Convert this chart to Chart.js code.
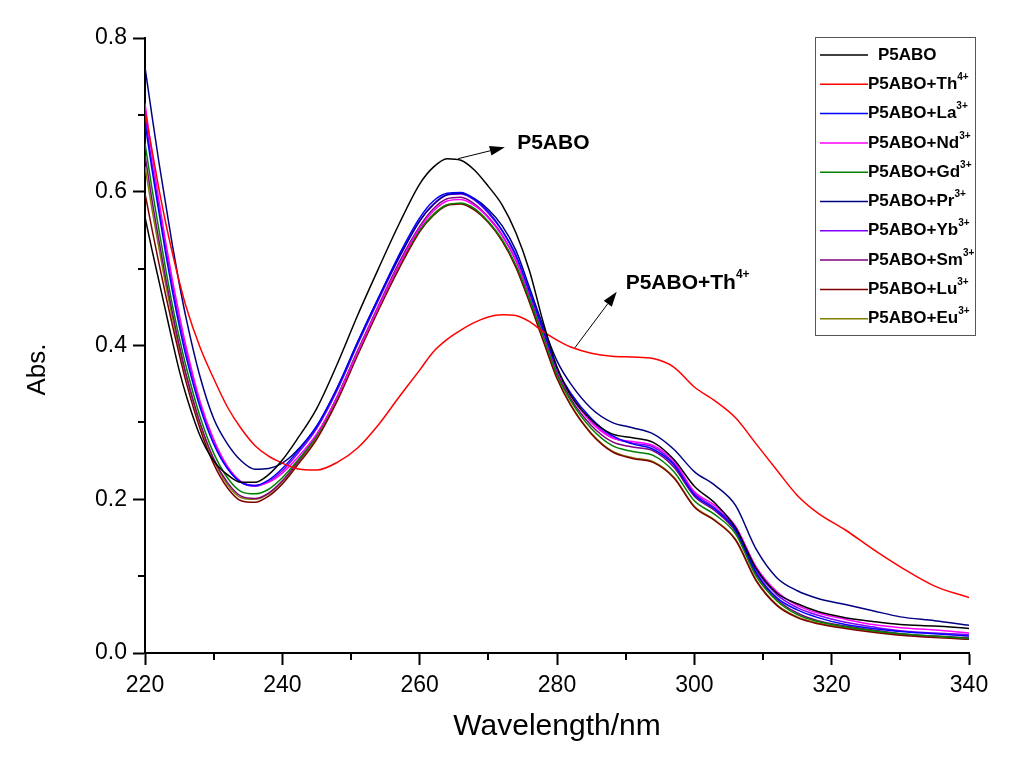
<!DOCTYPE html>
<html>
<head>
<meta charset="utf-8">
<title>UV-Vis P5ABO</title>
<script src="https://cdn.jsdelivr.net/npm/chart.js@4/dist/chart.umd.min.js"></script>
<style>
  html, body { margin: 0; padding: 0; background: #fff; }
  #wrap { width: 1016px; height: 760px; }
</style>
</head>
<body>
<div id="wrap"><canvas id="absChart" width="1016" height="760"></canvas></div>
<script>
// wavelength grid (nm)
const wavelengths = [220,221,222,223,224,225,226,228,230,232,234,236,238,240,242,245,248,251,254,257,260,262,264,266,268,270,272,274,276,278,280,282,285,288,291,294,297,300,303,306,309,312,315,318,322,326,330,335,340];

// absorbance
const absP5ABO = [.567,.525,.485,.445,.405,.367,.335,.283,.250,.232,.222,.222,.232,.251,.276,.318,.376,.440,.500,.558,.610,.632,.643,.641,.628,.607,.583,.547,.497,.430,.372,.335,.303,.285,.280,.274,.252,.217,.195,.163,.110,.078,.064,.054,.046,.041,.037,.035,.032];
const absTh = [.705,.655,.605,.560,.520,.483,.450,.398,.357,.320,.292,.270,.256,.247,.240,.238,.248,.267,.297,.333,.368,.392,.408,.420,.430,.437,.440,.439,.431,.418,.407,.398,.390,.386,.385,.383,.372,.346,.328,.306,.272,.238,.205,.182,.160,.135,.112,.087,.072];
const absLa = [.690,.630,.575,.520,.470,.425,.385,.320,.272,.240,.222,.218,.225,.240,.260,.295,.345,.405,.462,.518,.566,.588,.598,.599,.590,.574,.550,.518,.470,.420,.370,.338,.305,.283,.272,.265,.245,.206,.187,.160,.105,.072,.056,.046,.037,.032,.028,.025,.022];
const absNd = [.715,.650,.590,.535,.485,.440,.398,.328,.278,.243,.223,.218,.222,.234,.252,.285,.333,.392,.450,.505,.553,.575,.588,.590,.582,.566,.543,.511,.467,.418,.368,.335,.300,.280,.275,.270,.250,.210,.192,.165,.112,.080,.062,.052,.044,.037,.033,.030,.026];
const absGd = [.663,.605,.552,.500,.452,.410,.372,.308,.260,.228,.210,.207,.213,.228,.248,.283,.333,.393,.450,.505,.550,.570,.583,.585,.578,.561,.538,.505,.460,.412,.362,.328,.292,.270,.262,.257,.236,.198,.180,.155,.100,.068,.050,.041,.034,.029,.025,.022,.019];
const absPr = [.762,.700,.640,.585,.530,.480,.435,.360,.305,.272,.250,.239,.240,.247,.262,.295,.345,.405,.462,.515,.562,.583,.596,.598,.591,.577,.556,.524,.475,.425,.380,.350,.318,.300,.293,.285,.265,.236,.218,.192,.135,.098,.081,.071,.063,.055,.047,.042,.036];
const absYb = [.700,.638,.582,.528,.478,.432,.392,.325,.276,.242,.222,.217,.223,.237,.257,.292,.342,.402,.459,.514,.562,.584,.596,.597,.589,.572,.549,.516,.470,.420,.369,.336,.302,.281,.273,.268,.247,.208,.189,.162,.108,.076,.059,.049,.040,.034,.029,.026,.024];
const absSm = [.648,.590,.538,.488,.442,.400,.362,.300,.253,.222,.204,.201,.208,.224,.246,.283,.334,.394,.452,.508,.555,.578,.591,.593,.584,.567,.544,.511,.465,.416,.365,.331,.296,.275,.268,.263,.242,.204,.185,.158,.103,.070,.052,.042,.035,.030,.025,.022,.020];
const absLu = [.598,.552,.508,.466,.426,.388,.352,.292,.246,.215,.198,.196,.204,.220,.242,.278,.328,.388,.446,.500,.548,.569,.582,.584,.576,.560,.536,.502,.456,.406,.357,.322,.285,.262,.253,.248,.228,.190,.172,.147,.094,.062,.046,.038,.032,.027,.023,.020,.018];
const absEu = [.633,.578,.528,.480,.436,.396,.360,.298,.251,.219,.202,.200,.207,.223,.244,.280,.330,.390,.447,.502,.550,.571,.583,.585,.577,.561,.537,.503,.457,.407,.358,.323,.286,.263,.254,.249,.229,.191,.173,.148,.095,.063,.047,.039,.033,.028,.024,.021,.019];

const seriesNames = ['P5ABO','P5ABO+Th','P5ABO+La','P5ABO+Nd','P5ABO+Gd','P5ABO+Pr','P5ABO+Yb','P5ABO+Sm','P5ABO+Lu','P5ABO+Eu'];
const seriesSups = ['','4+','3+','3+','3+','3+','3+','3+','3+','3+'];
const seriesColors = ['#000000','#ff0000','#0000ff','#ff00ff','#008000','#000080','#8000ff','#800080','#800000','#808000'];
const seriesValues = [absP5ABO, absTh, absLa, absNd, absGd, absPr, absYb, absSm, absLu, absEu];

const xMinorTicks = [230,250,270,290,310,330];
const yMinorTicks = [0.1,0.3,0.5,0.7];

// annotations, in data units: arrow from -> to, label anchored at text
const notes = [
  { text: 'P5ABO', sup: '', from: [265.6, 0.643], to: [272.4, 0.658], at: [274.2, 0.663] },
  { text: 'P5ABO+Th', sup: '4+', from: [282.6, 0.397], to: [288.7, 0.470], at: [290.0, 0.481] }
];

const FONT = "'Liberation Sans', Arial, sans-serif";

function drawSupText(ctx, x, y, text, sup, size) {
  ctx.font = 'bold ' + size + 'px ' + FONT;
  ctx.textBaseline = 'middle';
  ctx.textAlign = 'left';
  ctx.fillText(text, x, y);
  if (sup) {
    const w = ctx.measureText(text).width;
    ctx.font = 'bold ' + Math.round(size * 0.56) + 'px ' + FONT;
    ctx.fillText(sup, x + w, y - size * 0.42);
  }
}

const extrasPlugin = {
  id: 'extras',
  afterDraw(chart) {
    const ctx = chart.ctx;
    const xs = chart.scales.x, ys = chart.scales.y;
    const area = chart.chartArea;
    ctx.save();
    ctx.strokeStyle = '#000';
    ctx.lineWidth = 2;
    // minor ticks
    ctx.beginPath();
    xMinorTicks.forEach(v => {
      const px = Math.round(xs.getPixelForValue(v));
      ctx.moveTo(px, area.bottom);
      ctx.lineTo(px, area.bottom + 7);
    });
    yMinorTicks.forEach(v => {
      const py = Math.round(ys.getPixelForValue(v));
      ctx.moveTo(area.left, py);
      ctx.lineTo(area.left - 7, py);
    });
    ctx.stroke();

    // y axis title, sitting a bit below the axis middle as in the original
    ctx.fillStyle = '#000';
    ctx.save();
    ctx.translate(38, (area.top + area.bottom) / 2 + 24);
    ctx.rotate(-Math.PI / 2);
    ctx.font = '26px ' + FONT;
    ctx.textAlign = 'center';
    ctx.textBaseline = 'middle';
    ctx.fillText('Abs.', 0, 0);
    ctx.restore();

    // annotations
    ctx.lineWidth = 1;
    notes.forEach(n => {
      const x0 = xs.getPixelForValue(n.from[0]), y0 = ys.getPixelForValue(n.from[1]);
      const x1 = xs.getPixelForValue(n.to[0]), y1 = ys.getPixelForValue(n.to[1]);
      const ang = Math.atan2(y1 - y0, x1 - x0);
      const hl = 15, hw = 5;
      const bx = x1 - hl * Math.cos(ang), by = y1 - hl * Math.sin(ang);
      ctx.beginPath();
      ctx.moveTo(x0, y0);
      ctx.lineTo(bx, by);
      ctx.stroke();
      ctx.beginPath();
      ctx.moveTo(x1, y1);
      ctx.lineTo(bx + hw * Math.sin(ang), by - hw * Math.cos(ang));
      ctx.lineTo(bx - hw * Math.sin(ang), by + hw * Math.cos(ang));
      ctx.closePath();
      ctx.fill();
      drawSupText(ctx, xs.getPixelForValue(n.at[0]), ys.getPixelForValue(n.at[1]), n.text, n.sup, 21);
    });

    // legend box
    const lx = 815, ly = 37, lw = 160, lh = 298;
    ctx.fillStyle = '#fff';
    ctx.fillRect(lx, ly, lw, lh);
    ctx.strokeStyle = '#555';
    ctx.lineWidth = 1;
    ctx.strokeRect(lx + 0.5, ly + 0.5, lw, lh);
    chart.data.datasets.forEach((ds, i) => {
      const ry = 55 + i * 29.3;
      ctx.strokeStyle = ds.borderColor;
      ctx.lineWidth = 1.5;
      ctx.beginPath();
      ctx.moveTo(820, ry);
      ctx.lineTo(868, ry);
      ctx.stroke();
      ctx.fillStyle = '#000';
      drawSupText(ctx, i === 0 ? 878 : 868, ry, seriesNames[i], seriesSups[i], 17);
    });
    ctx.restore();
  }
};

const datasets = seriesNames.map((name, i) => ({
  label: name + seriesSups[i],
  data: wavelengths.map((w, k) => ({ x: w, y: seriesValues[i][k] })),
  borderColor: seriesColors[i],
  backgroundColor: seriesColors[i],
  borderWidth: 1.5,
  pointRadius: 0,
  cubicInterpolationMode: 'monotone',
  fill: false
}));

const tickFont = { family: FONT, size: 23 };

new Chart(document.getElementById('absChart').getContext('2d'), {
  type: 'line',
  data: { datasets: datasets },
  options: {
    responsive: false,
    animation: false,
    devicePixelRatio: 1,
    layout: { padding: { top: 38, right: 47, left: 0, bottom: 0 } },
    plugins: { legend: { display: false }, tooltip: { enabled: false } },
    scales: {
      x: {
        type: 'linear',
        min: 220,
        max: 340,
        afterFit: s => { s.height = 107; },
        ticks: { stepSize: 20, color: '#000', font: tickFont, padding: 7, maxRotation: 0 },
        grid: { drawOnChartArea: false, tickLength: 12, tickColor: '#000', tickWidth: 2 },
        border: { color: '#000', width: 2 },
        title: { display: true, text: 'Wavelength/nm', color: '#000', font: { family: FONT, size: 30 }, padding: { top: 0, bottom: 15 } }
      },
      y: {
        min: 0,
        max: 0.8,
        afterFit: s => { s.width = 145; },
        ticks: { stepSize: 0.2, color: '#000', font: tickFont, padding: 6, callback: v => v.toFixed(1) },
        grid: { drawOnChartArea: false, tickLength: 12, tickColor: '#000', tickWidth: 2 },
        border: { color: '#000', width: 2 }
      }
    }
  },
  plugins: [extrasPlugin]
});
</script>
</body>
</html>
